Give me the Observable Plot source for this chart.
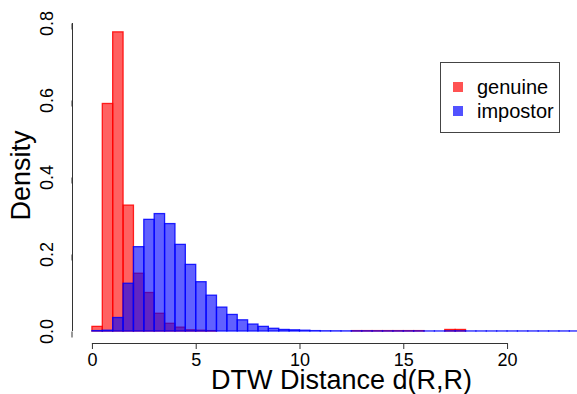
<!DOCTYPE html>
<html>
<head>
<meta charset="utf-8">
<script src="https://cdn.jsdelivr.net/npm/d3@7"></script>
<script src="https://cdn.jsdelivr.net/npm/@observablehq/plot@0.6"></script>
<style>
  html, body { margin: 0; padding: 0; background: white; overflow: hidden; }
  #wrap { position: relative; width: 577px; height: 394px; overflow: hidden; font-family: "Liberation Sans", Arial, sans-serif; }
  #legend { position: absolute; left: 440px; top: 62px; width: 120px; height: 71px; border: 1px solid #444; box-sizing: border-box; background: white; }
  .item { position: absolute; left: 12px; display: flex; align-items: center; font-size: 20px; color: #000; height: 24px; }
  .sw { width: 10px; height: 10px; margin-right: 14px; }
</style>
</head>
<body>
<div id="wrap"><div id="chart"></div><div id="legend"></div></div>
<script>
// Histogram bin starts (width 0.5) and densities
const binWidth = 0.5;
const impostorBins = [0,0.5,1,1.5,2,2.5,3,3.5,4,4.5,5,5.5,6,6.5,7,7.5,8,8.5,9,9.5,10,10.5,11,11.5,12,12.5,13,13.5,14,14.5,15,15.5,16,16.5,17,17.5,18,18.5,19,19.5,20,20.5,21,21.5,22,22.5,23,23.5];
const impostorDensity = [0.001,0.002,0.035,0.124,0.219,0.290,0.305,0.279,0.225,0.173,0.128,0.093,0.062,0.043,0.029,0.018,0.012,0.007,0.004,0.003,0.002,0.001,0.0005,0.0004,0.0003,0.0002,0.0002,0.0001,0.0001,0.0001,0.0001,0.0001,0.0001,0.0001,0.0003,0.0003,0.0001,0.0001,0.0001,0.0001,0.0001,0.0001,0.0001,0.0001,0.0001,0.0001,0.0001,0.0001];
const genuineBins = [0,0.5,1,1.5,2,2.5,3,3.5,4,4.5,5,5.5,12.5,13,13.5,14,14.5,15,15.5,17,17.5];
const genuineDensity = [0.012,0.591,0.777,0.327,0.150,0.100,0.046,0.020,0.010,0.003,0.002,0.001,0.001,0.001,0.001,0.001,0.001,0.001,0.001,0.004,0.004];
const seriesNames = ["genuine", "impostor"];
const seriesColors = ["#ff0000", "#0000ff"];
const xTicks = [0, 5, 10, 15, 20];
const yTicks = [0, 0.2, 0.4, 0.6, 0.8];
const xTitle = "DTW Distance d(R,R)";
const yTitle = "Density";

const xDomain = [-0.96, 24.96];
const yDomain = [-0.0312, 0.8416];

const genuine = genuineBins.map((b, i) => ({x1: b, x2: b + binWidth, y: genuineDensity[i]}));
const impostor = impostorBins.map((b, i) => ({x1: b, x2: b + binWidth, y: impostorDensity[i]}));

const axisColor = "#333";
const chart = Plot.plot({
  width: 610,
  height: 394,
  marginLeft: 72,
  marginRight: 0,
  marginTop: 7,
  marginBottom: 51,
  style: {fontFamily: "Liberation Sans, Arial, sans-serif", background: "white", maxWidth: "none", overflow: "visible"},
  x: {domain: xDomain},
  y: {domain: yDomain},
  marks: [
    Plot.rectY(genuine, {x1: "x1", x2: "x2", y: "y", fill: seriesColors[0], fillOpacity: 0.62, stroke: seriesColors[0], strokeOpacity: 0.85, strokeWidth: 1.3}),
    Plot.rectY(impostor, {x1: "x1", x2: "x2", y: "y", fill: seriesColors[1], fillOpacity: 0.62, stroke: seriesColors[1], strokeOpacity: 0.85, strokeWidth: 1.3}),
    Plot.ruleY([yDomain[0]], {x1: () => xTicks[0], x2: () => xTicks[xTicks.length - 1], stroke: axisColor}),
    Plot.ruleX([xDomain[0]], {y1: () => yTicks[0], y2: () => yTicks[yTicks.length - 1], stroke: axisColor}),
    Plot.axisX({ticks: xTicks, tickSize: 6, tickPadding: 4, fontSize: 18, stroke: axisColor, fill: "#000", label: null, tickFormat: d => String(d)}),
    Plot.axisY({ticks: yTicks, tickSize: 6, tickPadding: 14, fontSize: 18, rotate: -90, textAnchor: "middle", lineAnchor: "bottom", stroke: axisColor, fill: "#000", label: null, tickFormat: d => d.toFixed(1)}),
    Plot.text([xTitle], {frameAnchor: "bottom", dy: 45, fontSize: 27, lineAnchor: "bottom", textAnchor: "middle", fill: "#000"}),
    Plot.text([yTitle], {frameAnchor: "left", dx: -62, rotate: -90, fontSize: 27, lineAnchor: "top", textAnchor: "middle", fill: "#000"})
  ]
});
chart.style.maxWidth = "none";
document.getElementById("chart").appendChild(chart);

const legend = document.getElementById("legend");
seriesNames.forEach((name, i) => {
  const item = document.createElement("div");
  item.className = "item";
  item.style.top = (12 + i * 24) + "px";
  const sw = document.createElement("div");
  sw.className = "sw";
  sw.style.background = seriesColors[i];
  sw.style.opacity = 0.68;
  item.appendChild(sw);
  item.appendChild(document.createTextNode(name));
  legend.appendChild(item);
});
</script>
</body>
</html>
